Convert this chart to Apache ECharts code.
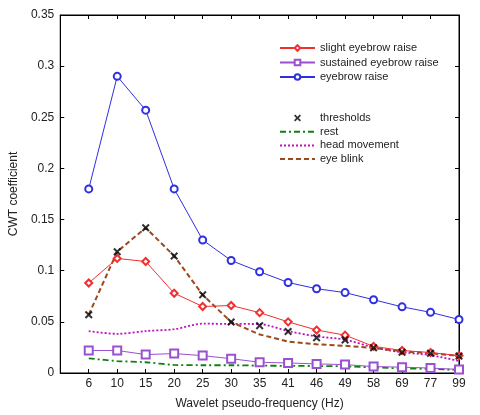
<!DOCTYPE html>
<html>
<head>
<meta charset="utf-8">
<script src="https://cdn.jsdelivr.net/npm/echarts@6/dist/echarts.min.js"></script>
<style>
  html, body { margin: 0; padding: 0; background: #fff; }
  #chart { width: 480px; height: 415px; }
</style>
</head>
<body>
<div id="chart"></div>
<script>
// x categories (leading blank slot, as in the original plot)
var freqs = ['', '6', '10', '15', '20', '25', '30', '35', '41', '46', '49', '58', '69', '77', '99'];

var slightRaise   = [null, 0.088, 0.112, 0.109, 0.078, 0.065, 0.066, 0.059, 0.050, 0.042, 0.037, 0.026, 0.022, 0.020, 0.017];
var sustainedRaise = [null, 0.022, 0.022, 0.018, 0.019, 0.017, 0.014, 0.0105, 0.0098, 0.0089, 0.0082, 0.0063, 0.0057, 0.0048, 0.0035];
var eyebrowRaise  = [null, 0.180, 0.290, 0.257, 0.180, 0.130, 0.110, 0.099, 0.0885, 0.0824, 0.0786, 0.0716, 0.0647, 0.0593, 0.0523];
var thresholds    = [null, 0.057, 0.1186, 0.142, 0.1144, 0.0764, 0.0498, 0.0463, 0.0406, 0.0345, 0.0323, 0.0247, 0.0203, 0.0193, 0.0165];
var rest          = [null, 0.0143, 0.0117, 0.0105, 0.0079, 0.0076, 0.0076, 0.0072, 0.0070, 0.0068, 0.0065, 0.0055, 0.0045, 0.0040, 0.0030];
var headMovement  = [null, 0.0409, 0.0383, 0.041, 0.0428, 0.0482, 0.048, 0.0478, 0.041, 0.0358, 0.0326, 0.025, 0.0203, 0.0174, 0.0117];
var eyeBlink      = [null, 0.057, 0.1186, 0.142, 0.1144, 0.0764, 0.0498, 0.0377, 0.0307, 0.028, 0.0266, 0.0244, 0.0212, 0.0193, 0.0168];

var txt = '#222';
var crossPath = 'path://M0,1.8L1.8,0L5,3.2L8.2,0L10,1.8L6.8,5L10,8.2L8.2,10L5,6.8L1.8,10L0,8.2L3.2,5Z';
var noMark = { opacity: 0 };

var chart = echarts.init(document.getElementById('chart'));
chart.setOption({
    animation: false,
    backgroundColor: '#fff',
    textStyle: { fontFamily: 'Liberation Sans, Arial, sans-serif' },
    grid: { left: 55, top: 15, right: 21, bottom: 32, show: true, borderColor: '#000', borderWidth: 1, backgroundColor: 'transparent' },
    legend: [{
        orient: 'vertical',
        left: 279, top: 42.5, padding: 0,
        itemWidth: 35, itemHeight: 7, itemGap: 3.5,
        textStyle: { fontSize: 11, color: txt },
        data: ['slight eyebrow raise', 'sustained eyebrow raise', 'eyebrow raise']
    }, {
        orient: 'vertical',
        left: 279, top: 112.5, padding: 0,
        itemWidth: 35, itemHeight: 7, itemGap: 2.7,
        textStyle: { fontSize: 11, color: txt },
        data: [
            'thresholds',
            { name: 'rest', itemStyle: noMark },
            { name: 'head movement', itemStyle: noMark },
            { name: 'eye blink', itemStyle: noMark }
        ]
    }],
    xAxis: [{
        type: 'category',
        data: freqs,
        boundaryGap: false,
        name: 'Wavelet pseudo-frequency (Hz)',
        nameLocation: 'middle',
        nameGap: 25,
        nameTextStyle: { fontSize: 12, color: txt },
        axisLine: { onZero: false, lineStyle: { color: '#000' } },
        axisTick: { inside: true, length: 4, lineStyle: { color: '#000' } },
        axisLabel: { fontSize: 12, color: txt, margin: 5, interval: 0 },
        splitLine: { show: false }
    }, {
        type: 'category',
        data: freqs,
        boundaryGap: false,
        position: 'top',
        axisLine: { show: true, onZero: false, lineStyle: { color: '#000' } },
        axisTick: { show: true, inside: true, length: 4, interval: 0, lineStyle: { color: '#000' } },
        axisLabel: { show: false },
        splitLine: { show: false }
    }],
    yAxis: [{
        type: 'value',
        min: 0, max: 0.35, interval: 0.05,
        name: 'CWT coefficient',
        nameLocation: 'middle',
        nameGap: 36,
        nameTextStyle: { fontSize: 12, color: txt },
        axisLine: { show: true, onZero: false, lineStyle: { color: '#000' } },
        axisTick: { show: true, inside: true, length: 4, lineStyle: { color: '#000' } },
        axisLabel: { fontSize: 12, color: txt, margin: 6 },
        splitLine: { show: false }
    }, {
        type: 'value',
        min: 0, max: 0.35, interval: 0.05,
        position: 'right',
        axisLine: { show: true, onZero: false, lineStyle: { color: '#000' } },
        axisTick: { show: true, inside: true, length: 4, lineStyle: { color: '#000' } },
        axisLabel: { show: false },
        splitLine: { show: false }
    }],
    series: [{
        name: 'slight eyebrow raise',
        type: 'line',
        data: slightRaise,
        symbol: 'emptyDiamond', symbolSize: 7,
        itemStyle: { color: '#f03030' },
        lineStyle: { color: '#f03030', width: 1 }
    }, {
        name: 'sustained eyebrow raise',
        type: 'line',
        data: sustainedRaise,
        symbol: 'emptyRect', symbolSize: 8,
        itemStyle: { color: '#9a50d0' },
        lineStyle: { color: '#9a50d0', width: 1 }
    }, {
        name: 'eyebrow raise',
        type: 'line',
        data: eyebrowRaise,
        symbol: 'emptyCircle', symbolSize: 7,
        itemStyle: { color: '#3030e0' },
        lineStyle: { color: '#3030e0', width: 1 }
    }, {
        name: 'rest',
        type: 'line',
        data: rest,
        smooth: 0.3,
        showSymbol: false,
        symbol: 'none',
        itemStyle: { color: '#108010' },
        lineStyle: { color: '#108010', width: 1.8, type: [6, 3, 2, 3] },
        z: 1
    }, {
        name: 'head movement',
        type: 'line',
        data: headMovement,
        smooth: 0.3,
        showSymbol: false,
        symbol: 'none',
        itemStyle: { color: '#c010c0' },
        lineStyle: { color: '#c010c0', width: 1.8, type: [2, 2] },
        z: 1
    }, {
        name: 'eye blink',
        type: 'line',
        data: eyeBlink,
        showSymbol: false,
        symbol: 'none',
        itemStyle: { color: '#9a4a1c' },
        lineStyle: { color: '#9a4a1c', width: 2, type: [5, 3] },
        z: 1
    }, {
        name: 'thresholds',
        type: 'scatter',
        data: thresholds,
        symbol: crossPath,
        symbolKeepAspect: true,
        symbolSize: 8,
        itemStyle: { color: '#000' },
        z: 5
    }, {
        // empty series so the mirrored top/right axes get drawn
        name: '_box',
        type: 'line',
        xAxisIndex: 1,
        yAxisIndex: 1,
        data: freqs.map(function () { return null; }),
        symbol: 'none',
        silent: true
    }]
});
</script>
</body>
</html>
